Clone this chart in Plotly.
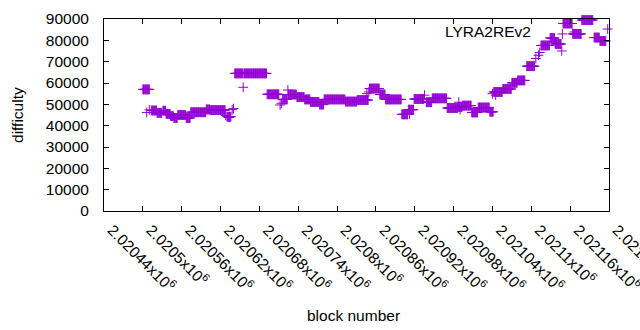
import plotly.graph_objects as go

# Runs of consecutive blocks sharing a difficulty value (start block, end block, difficulty)
run_start = [2020500, 2020513, 2020522, 2020531, 2020536, 2020543, 2020548, 2020554, 2020567, 2020574,
             2020598, 2020604, 2020630, 2020642, 2020656, 2020692, 2020716, 2020725, 2020738, 2020750,
             2020759, 2020773, 2020780, 2020813, 2020831, 2020850, 2020866, 2020875, 2020900, 2020910,
             2020919, 2020938, 2020947, 2020970, 2020987, 2020994, 2021008, 2021018, 2021036, 2021042,
             2021056, 2021070, 2021079, 2021093, 2021115, 2021129, 2021137, 2021149, 2021164, 2021178,
             2021197, 2021206]
run_end = [2020510, 2020521, 2020529, 2020535, 2020542, 2020547, 2020553, 2020566, 2020573, 2020597,
           2020603, 2020627, 2020636, 2020654, 2020691, 2020710, 2020723, 2020737, 2020749, 2020758,
           2020772, 2020779, 2020812, 2020830, 2020848, 2020865, 2020874, 2020899, 2020909, 2020918,
           2020934, 2020946, 2020969, 2020986, 2020993, 2021007, 2021017, 2021035, 2021041, 2021055,
           2021069, 2021078, 2021090, 2021105, 2021128, 2021136, 2021146, 2021163, 2021177, 2021195,
           2021205, 2021215]
run_value = [57000, 47100, 46000, 47000, 45500, 44500, 43600, 45000, 43600, 46300,
             47600, 47300, 44200, 64500, 64500, 54700, 52300, 54600, 53400, 52300,
             51100, 49900, 52300, 51300, 52000, 57400, 54600, 52300, 45300, 47500,
             52500, 51000, 52800, 48300, 48800, 49400, 46200, 48500, 46500, 55800,
             57200, 60100, 61200, 67900, 77600, 81100, 78300, 87900, 83000, 89500,
             81300, 79700]

# Isolated blocks
single_block = [2020506, 2020510, 2020628, 2020633, 2020638, 2020640, 2020655, 2020712, 2020714, 2020724,
                2020846, 2020849, 2020912, 2020935, 2020988, 2020990, 2021040, 2021045, 2021107, 2021111,
                2021113, 2021137, 2021147, 2021148, 2021218]
single_value = [46200, 47400, 44800, 43800, 47500, 48000, 58000, 49700, 50500, 56700,
                55000, 55800, 45500, 54300, 51000, 47500, 55000, 54300, 71500, 73000,
                74300, 78800, 75000, 83000, 85300]

x_ticks = [2020440 + 60 * i for i in range(14)]
x_tick_text = ["2.02044x10<sup>6</sup>", "2.0205x10<sup>6</sup>", "2.02056x10<sup>6</sup>",
               "2.02062x10<sup>6</sup>", "2.02068x10<sup>6</sup>", "2.02074x10<sup>6</sup>",
               "2.0208x10<sup>6</sup>", "2.02086x10<sup>6</sup>", "2.02092x10<sup>6</sup>",
               "2.02098x10<sup>6</sup>", "2.02104x10<sup>6</sup>", "2.0211x10<sup>6</sup>",
               "2.02116x10<sup>6</sup>", "2.02122x10<sup>6</sup>"]
y_ticks = [0, 10000, 20000, 30000, 40000, 50000, 60000, 70000, 80000, 90000]

xs, ys = [], []
for s, e, v in zip(run_start, run_end, run_value):
    for b in range(s, e + 1):
        xs.append(b)
        ys.append(v)
xs += single_block
ys += single_value

COLOR = "#9400D3"
FONT = "Liberation Sans, Arial, sans-serif"
FS = 15.5

fig = go.Figure()
fig.add_trace(go.Scatter(
    x=xs, y=ys, mode="markers", name="LYRA2REv2",
    marker=dict(symbol="cross-thin", size=7, line=dict(color=COLOR, width=1), color=COLOR),
    showlegend=False, cliponaxis=False,
))

axis_common = dict(showline=True, linecolor="black", linewidth=1, mirror="ticks",
                   ticks="inside", ticklen=5, tickcolor="black", showgrid=False, zeroline=False,
                   automargin=False)

fig.update_layout(
    width=640, height=330,
    margin=dict(l=104, r=31, t=19, b=119),
    paper_bgcolor="white", plot_bgcolor="white",
    font=dict(family=FONT, size=FS, color="black"),
    xaxis=dict(range=[2020440, 2021220], tickvals=x_ticks, ticktext=x_tick_text,
               tickangle=45, ticklabelstandoff=3, ticklabelshift=8, ticklabeloverflow="allow",
               **axis_common),
    yaxis=dict(range=[0, 90000], tickvals=y_ticks, ticktext=[str(v) for v in y_ticks],
               ticklabelstandoff=11, **axis_common),
    annotations=[
        dict(text="LYRA2REv2", xref="paper", yref="paper", x=0.8495, y=0.9375,
             xanchor="right", yanchor="middle", showarrow=False),
        dict(text="block number", xref="paper", yref="paper", x=0.495, y=-0.5417,
             xanchor="center", yanchor="middle", showarrow=False),
        dict(text="difficulty", xref="paper", yref="paper", x=-0.1723, y=0.5,
             xanchor="center", yanchor="middle", showarrow=False, textangle=-90),
    ],
    shapes=[dict(type="path", xref="paper", yref="paper",
                 path="M 0.9216,0.9323 L 0.9354,0.9323 M 0.9285,0.9141 L 0.9285,0.9505",
                 line=dict(color=COLOR, width=1))],
)

fig.write_html("out.html", config={"displayModeBar": False},
               post_script="document.body.style.margin='0px';")
